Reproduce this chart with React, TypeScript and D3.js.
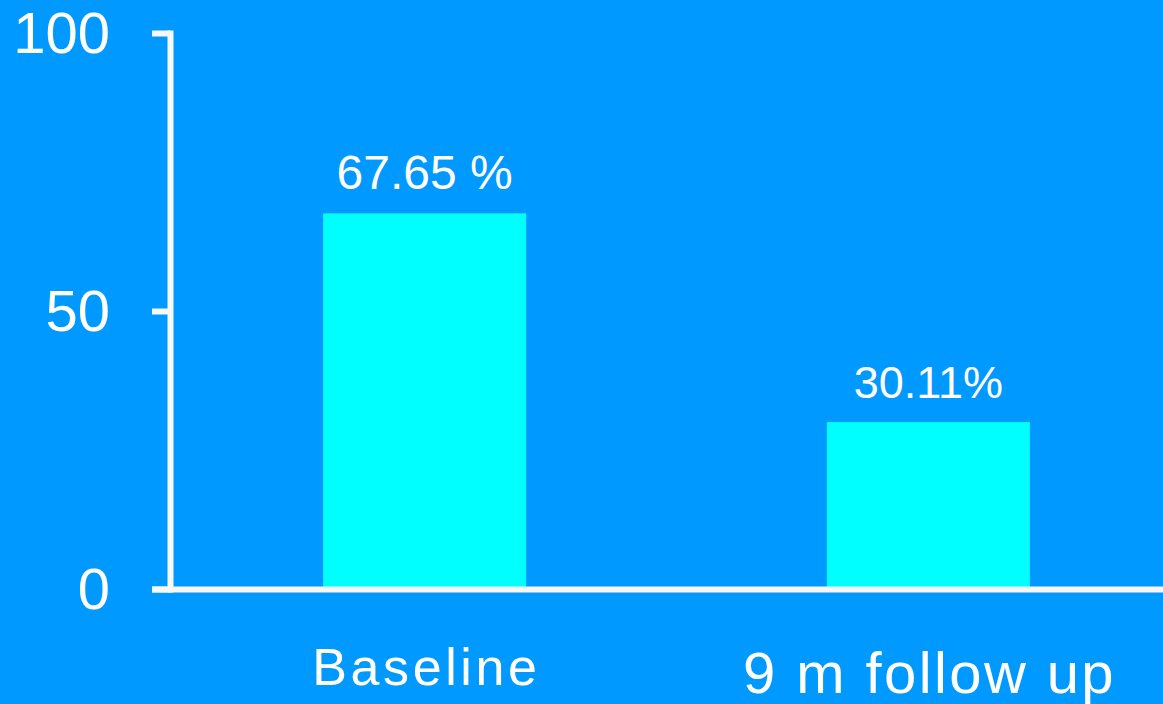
import React from "react";
import * as d3 from "d3";

const categories = ["Baseline", "9 m follow up"];
const values = [67.65, 30.11];
const valueLabels = ["67.65 %", "30.11%"];
const yTicks = [0, 50, 100];

const W = 1163;
const H = 704;
const BG = "#0099FF";
const BAR = "#00FFFF";
const LINE = "#F8F8F8";
const FONT = "'Liberation Sans', Arial, Helvetica, sans-serif";

// per-category text styling (sizes differ in the reference)
const valueFontSizes = [48, 45];
const catFontSizes = [52, 58];
const catLetterSpacing = [3.6, 2.4];
const catBaselineOffset = [95.5, 103.5];

export default function App() {
  const y = d3.scaleLinear().domain([0, 100]).range([589.5, 33.5]);
  const x = d3
    .scaleBand<string>()
    .domain(categories)
    .range([172, 1181])
    .paddingInner(0.597)
    .paddingOuter(0.3);

  const axisX = 170.5;
  const sw = 6;

  return (
    <svg
      width={W}
      height={H}
      style={{ position: "absolute", left: 0, top: 0, display: "block" }}
      fontFamily={FONT}
    >
      <rect x={0} y={0} width={W} height={H} fill={BG} />
      {categories.map((c, i) => (
        <rect
          key={c}
          x={x(c)}
          y={y(values[i])}
          width={x.bandwidth()}
          height={y(0) - y(values[i])}
          fill={BAR}
        />
      ))}
      {/* axes */}
      <line x1={axisX} x2={axisX} y1={y(100) - sw / 2} y2={y(0) + sw / 2} stroke={LINE} strokeWidth={sw} />
      <line x1={152} x2={W} y1={y(0)} y2={y(0)} stroke={LINE} strokeWidth={sw} />
      {yTicks.map((t) => (
        <g key={t}>
          <line x1={152} x2={axisX} y1={y(t)} y2={y(t)} stroke={LINE} strokeWidth={sw} />
          <text
            x={110}
            y={y(t) + 58 * 0.33}
            textAnchor="end"
            fontSize={58}
            fill="#FFFFFF"
          >
            {t}
          </text>
        </g>
      ))}
      {categories.map((c, i) => (
        <text
          key={"v" + c}
          x={(x(c) as number) + x.bandwidth() / 2}
          y={y(values[i]) - 24}
          textAnchor="middle"
          fontSize={valueFontSizes[i]}
          fill="#FFFFFF"
        >
          {valueLabels[i]}
        </text>
      ))}
      {categories.map((c, i) => (
        <text
          key={"c" + c}
          x={(x(c) as number) + x.bandwidth() / 2 + catLetterSpacing[i] / 2}
          y={y(0) + catBaselineOffset[i]}
          textAnchor="middle"
          fontSize={catFontSizes[i]}
          letterSpacing={catLetterSpacing[i]}
          fill="#FFFFFF"
        >
          {c}
        </text>
      ))}
    </svg>
  );
}
